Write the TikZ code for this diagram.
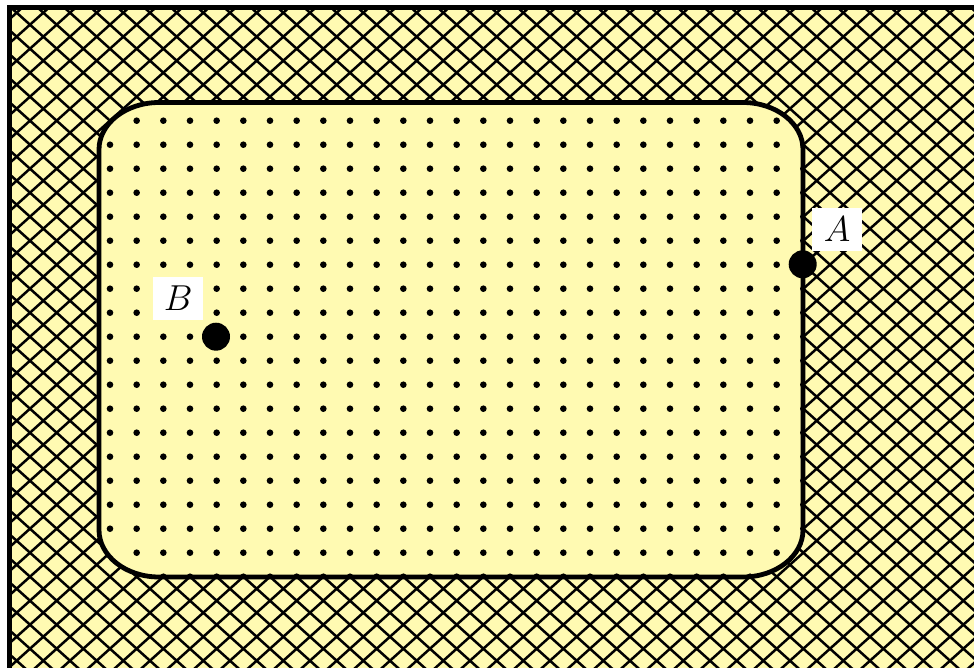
\documentclass[tikz,border=0pt]{standalone}
\usepackage{graphicx}
\usepackage{tikz}
\definecolor{paleyellow}{RGB}{255,250,178}
\newcommand{\biglabel}[1]{\scalebox{1.45}{\Huge$#1$}}
\tikzset{
  hatchline/.style={line width=2.5pt, black},
  borderline/.style={line width=4.8pt, black},
  ptdot/.style={circle, fill=black, minimum size=28pt, inner sep=0pt},
  lbl/.style={fill=white, inner sep=0pt, minimum width=50pt, minimum height=43pt}
}
\begin{document}
\begin{tikzpicture}[x=1pt,y=-1pt]
\useasboundingbox (0,0) rectangle (974,668);
\clip (0,0) rectangle (974,668);
% outer region
\fill[paleyellow] (9.5,7.5) rectangle (1000,700);
\begin{scope}
  \clip (9.5,7.5) rectangle (1000,700);
  \begin{scope}[shift={(403.33,120.7)}, x=26.667pt, y=-24pt]
    \foreach \k in {-50,...,60} {
      \draw[hatchline] (\k,-10) -- ++(40,40);
      \draw[hatchline] (\k,-10) -- ++(-40,40);
    }
  \end{scope}
\end{scope}
\draw[borderline] (9.5,700) -- (9.5,7.5) -- (1000,7.5);
% inner region
\def\innershape{(159,102.5) -- (743,102.5)
  arc[start angle=-90, end angle=0, x radius=60, y radius=47] -- (803,530)
  arc[start angle=0, end angle=90, x radius=60, y radius=47] -- (159,577)
  arc[start angle=90, end angle=180, x radius=60, y radius=47] -- (99,149.5)
  arc[start angle=180, end angle=270, x radius=60, y radius=47] -- cycle}
\fill[paleyellow] \innershape;
\begin{scope}
  \clip \innershape;
  \foreach \i in {-1,...,27} {
    \foreach \j in {-1,...,19} {
      \pgfmathtruncatemacro{\skipdot}{(\i==0)&&(\j==18)}
      \ifnum\skipdot=0
        \fill (110+26.667*\i, 120.7+24*\j) circle (3.3pt);
      \fi
    }
  }
\end{scope}
\draw[borderline] \innershape;
% points
\node[ptdot] (A) at (802.7,264.3) {};
\node[ptdot] (B) at (216,336.7) {};
\node[lbl] (la) at (837,229.5) {\biglabel{A}};
\node[lbl] (lb) at (178.3,298.3) {\biglabel{B}};
\end{tikzpicture}
\end{document}
